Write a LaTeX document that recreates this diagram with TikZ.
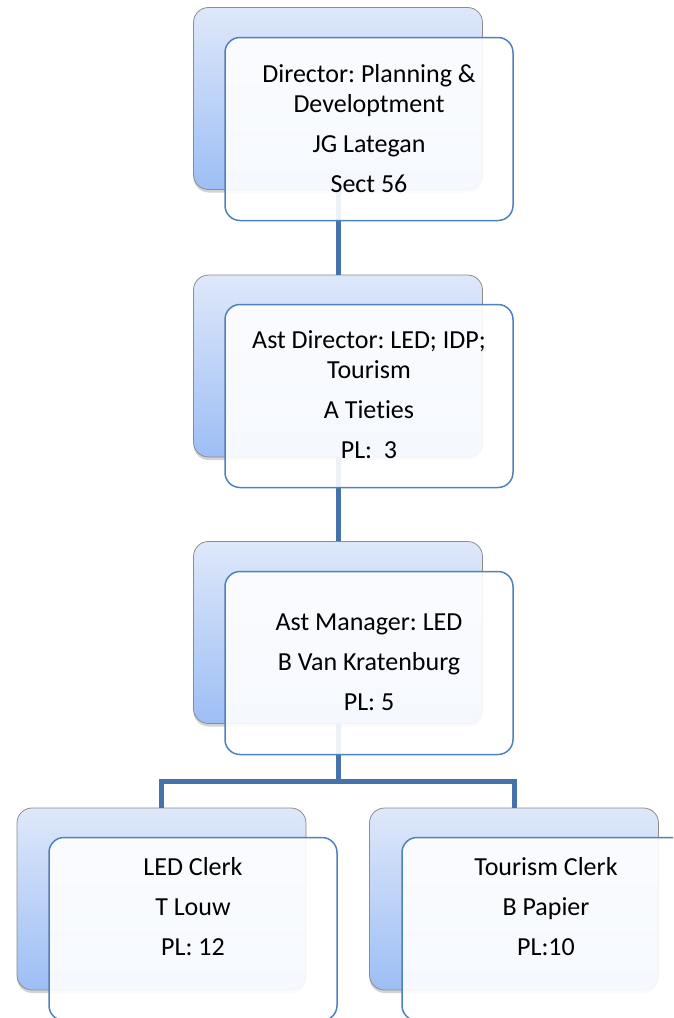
\documentclass[tikz,border=0pt]{standalone}
\usepackage{fontspec}
\setmainfont{Carlito}[Ligatures=NoCommon]
\frenchspacing
\usetikzlibrary{shadows}
\definecolor{conncol}{RGB}{70,114,172}
\definecolor{framecol}{RGB}{79,129,189}
\definecolor{backtop}{RGB}{222,232,250}
\definecolor{backbot}{RGB}{157,190,245}
\definecolor{backedge}{RGB}{140,140,140}
\begin{document}
\begin{tikzpicture}[x=1pt,y=-1pt,
  backbox/.style={rectangle, rounded corners=15pt, minimum width=289pt,
    minimum height=182pt, inner sep=0pt, draw=backedge, line width=0.8pt,
    top color=backtop, bottom color=backbot,
    drop shadow={shadow xshift=0pt, shadow yshift=-3pt, opacity=0.35}},
  frontbox/.style={rectangle, rounded corners=15pt, minimum width=288pt,
    minimum height=183pt, inner sep=0pt, draw=framecol, line width=1.5pt,
    fill=white, fill opacity=0.9},
  conn/.style={draw=conncol, line width=5pt},
  lbl/.style={anchor=base, inner sep=0pt, font=\fontsize{26}{30}\selectfont}]
\clip (0,0) rectangle (673,1018);

% back panels
\node[backbox] (b1) at (338,98.5) {};
\node[backbox] (b2) at (338,366) {};
\node[backbox] (b3) at (338,632.5) {};
\node[backbox] (b4) at (161.5,899) {};
\node[backbox] (b5) at (514,899) {};

% reporting lines
\coordinate (bar) at (338,781);
\draw[conn] (b1.south) -- (b2.north);
\draw[conn] (b2.south) -- (b3.north);
\draw[conn] (b3.south) -- (b3.south |- bar) -| (b4.north);
\draw[conn] (b3.south |- bar) -| (b5.north);

% front cards
\node[frontbox] (f1) at (369,129) {};
\node[frontbox] (f2) at (369,396) {};
\node[frontbox] (f3) at (369,663) {};
\node[frontbox] (f4) at (193,929) {};
\node[frontbox] (f5) at (546,929) {};

% titles
\node[lbl] (t1) at (369,82) {\begin{tabular}[t]{@{}c@{}}Director: Planning \&\\Developtment\\[10pt]JG Lategan\\[10pt]Sect 56\end{tabular}};
\node[lbl] (t2) at (369,348) {\begin{tabular}[t]{@{}c@{}}Ast Director: LED; IDP;\\Tourism\\[10pt]A Tieties\\[10pt]PL:\ \ 3\end{tabular}};
\node[lbl] (t3) at (369,630) {\begin{tabular}[t]{@{}c@{}}Ast Manager: LED\\[10pt]B Van Kratenburg\\[10pt]PL: 5\end{tabular}};
\node[lbl] (t4) at (193,875) {\begin{tabular}[t]{@{}c@{}}LED Clerk\\[10pt]T Louw\\[10pt]PL: 12\end{tabular}};
\node[lbl] (t5) at (546,875) {\begin{tabular}[t]{@{}c@{}}Tourism Clerk\\[10pt]B Papier\\[10pt]PL:10\end{tabular}};
\end{tikzpicture}
\end{document}
